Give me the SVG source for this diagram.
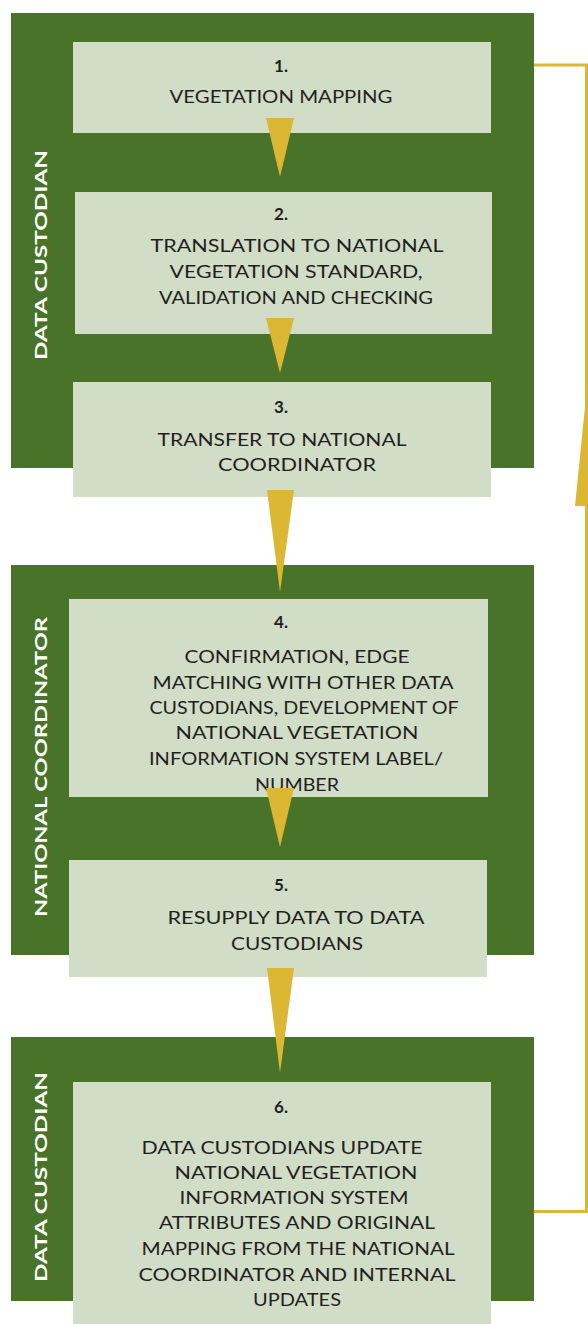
<svg xmlns="http://www.w3.org/2000/svg" width="588" height="1324" viewBox="0 0 588 1324">
<style>
.panel{fill:#4a732a}
.box{fill:#d1ddc6}
.tri{fill:#dbb733}
.t{font-family:Lato,"Liberation Sans",sans-serif;font-size:17px;fill:#231f20;text-anchor:middle}
.n{font-weight:bold}
.side{font-family:Lato,"Liberation Sans",sans-serif;font-size:17px;font-weight:bold;fill:#ffffff;text-anchor:middle}
.line{fill:none;stroke:#dbb733;stroke-width:3}
</style>
<rect width="588" height="1324" fill="#ffffff"/>
<g id="panel1">
<rect class="panel" x="11" y="13" width="523" height="455"/>
<text class="side" transform="translate(47,255) rotate(-90)" textLength="210" lengthAdjust="spacingAndGlyphs">DATA CUSTODIAN</text>
</g>
<g id="panel2">
<rect class="panel" x="11" y="565" width="523" height="390"/>
<text class="side" transform="translate(47,767) rotate(-90)" textLength="300" lengthAdjust="spacingAndGlyphs">NATIONAL COORDINATOR</text>
</g>
<g id="panel3">
<rect class="panel" x="11" y="1037" width="523" height="264"/>
<text class="side" transform="translate(47,1177) rotate(-90)" textLength="210" lengthAdjust="spacingAndGlyphs">DATA CUSTODIAN</text>
</g>
<g id="node1">
<rect class="box" x="73" y="42" width="418" height="91"/>
<text class="t n" x="281" y="72">1.</text>
<text class="t" x="281" y="103" textLength="223" lengthAdjust="spacingAndGlyphs">VEGETATION MAPPING</text>
</g>
<g id="node2">
<rect class="box" x="75" y="192" width="417" height="142"/>
<text class="t n" x="281" y="220">2.</text>
<text class="t" x="297" y="252" textLength="293" lengthAdjust="spacingAndGlyphs">TRANSLATION TO NATIONAL</text>
<text class="t" x="296" y="278" textLength="253" lengthAdjust="spacingAndGlyphs">VEGETATION STANDARD,</text>
<text class="t" x="296" y="304" textLength="274" lengthAdjust="spacingAndGlyphs">VALIDATION AND CHECKING</text>
</g>
<g id="node3">
<rect class="box" x="73" y="382" width="418" height="115"/>
<text class="t n" x="281" y="413">3.</text>
<text class="t" x="282" y="446" textLength="249" lengthAdjust="spacingAndGlyphs">TRANSFER TO NATIONAL</text>
<text class="t" x="297" y="471" textLength="158" lengthAdjust="spacingAndGlyphs">COORDINATOR</text>
</g>
<g id="node4">
<rect class="box" x="69" y="599" width="419" height="198"/>
<text class="t n" x="281" y="628">4.</text>
<text class="t" x="297" y="663" textLength="225" lengthAdjust="spacingAndGlyphs">CONFIRMATION, EDGE</text>
<text class="t" x="303" y="689" textLength="301" lengthAdjust="spacingAndGlyphs">MATCHING WITH OTHER DATA</text>
<text class="t" x="304" y="714" textLength="309" lengthAdjust="spacingAndGlyphs">CUSTODIANS, DEVELOPMENT OF</text>
<text class="t" x="297" y="739" textLength="243" lengthAdjust="spacingAndGlyphs">NATIONAL VEGETATION</text>
<text class="t" x="296" y="765" textLength="294" lengthAdjust="spacingAndGlyphs">INFORMATION SYSTEM LABEL/</text>
<text class="t" x="297" y="791" textLength="84" lengthAdjust="spacingAndGlyphs">NUMBER</text>
</g>
<g id="node5">
<rect class="box" x="69" y="860" width="418" height="117"/>
<text class="t n" x="281" y="891">5.</text>
<text class="t" x="296" y="924" textLength="257" lengthAdjust="spacingAndGlyphs">RESUPPLY DATA TO DATA</text>
<text class="t" x="297" y="950" textLength="132" lengthAdjust="spacingAndGlyphs">CUSTODIANS</text>
</g>
<g id="node6">
<rect class="box" x="73" y="1082" width="418" height="242"/>
<text class="t n" x="281" y="1113">6.</text>
<text class="t" x="282" y="1154" textLength="281" lengthAdjust="spacingAndGlyphs">DATA CUSTODIANS UPDATE</text>
<text class="t" x="296" y="1179" textLength="243" lengthAdjust="spacingAndGlyphs">NATIONAL VEGETATION</text>
<text class="t" x="294" y="1204" textLength="229" lengthAdjust="spacingAndGlyphs">INFORMATION SYSTEM</text>
<text class="t" x="297" y="1229" textLength="276" lengthAdjust="spacingAndGlyphs">ATTRIBUTES AND ORIGINAL</text>
<text class="t" x="298" y="1255" textLength="313" lengthAdjust="spacingAndGlyphs">MAPPING FROM THE NATIONAL</text>
<text class="t" x="297" y="1281" textLength="317" lengthAdjust="spacingAndGlyphs">COORDINATOR AND INTERNAL</text>
<text class="t" x="297" y="1306" textLength="88" lengthAdjust="spacingAndGlyphs">UPDATES</text>
</g>
<g id="connectors">
<polygon class="tri" points="266,118 294,118 280,177"/>
<polygon class="tri" points="266,318 294,318 280,373"/>
<polygon class="tri" points="267,490 294,490 280,592"/>
<polygon class="tri" points="266,788 294,788 280,847"/>
<polygon class="tri" points="267,968 294,968 280,1073"/>
<polyline class="line" points="534,65 586.5,65 586.5,1211.5 534,1211.5"/>
<polygon class="tri" points="575,506 599,506 587,387"/>
</g>
</svg>
